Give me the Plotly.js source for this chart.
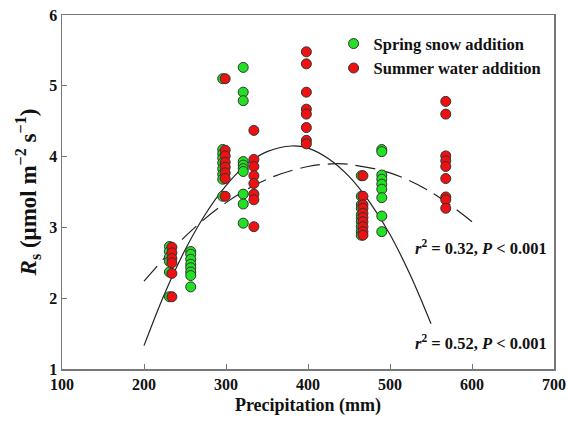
<!DOCTYPE html>
<html>
<head>
<meta charset="utf-8">
<script src="https://cdn.plot.ly/plotly-3.0.1.min.js"></script>
<style>html,body{margin:0;padding:0;background:#fff}#chart{width:570px;height:423px}</style>
</head>
<body>
<div id="chart"></div>
<script>
// Spring snow addition (green)
const springP  = [231,231,231,231,231,231,
                  257,257,257,257,257,257,257,257,
                  296,296,296,296,296,296,296,296,296,
                  321,321,321,321,321,321,321,321,321,321,
                  465,465,465,465,465,465,465,465,465,465,
                  490,490,490,490,490,490,490,490,490];
const springRs = [2.73,2.66,2.58,2.52,2.37,2.02,
                  2.66,2.62,2.55,2.48,2.43,2.37,2.32,2.16,
                  5.10,4.10,4.04,3.98,3.91,3.83,3.75,3.68,3.44,
                  5.26,4.91,4.79,3.93,3.88,3.83,3.79,3.47,3.33,3.06,
                  3.73,3.44,3.32,3.27,3.18,3.13,3.08,3.01,2.94,2.89,
                  4.10,4.07,3.74,3.68,3.61,3.54,3.42,3.16,2.94];
// Summer water addition (red)
const summerP  = [234,234,234,234,234,234,
                  299,299,299,299,299,299,299,299,
                  334,334,334,334,334,334,334,334,
                  398,398,398,398,398,398,398,398,
                  467,467,467,467,467,467,467,467,467,467,
                  568,568,568,568,568,568,568,568,568];
const summerRs = [2.72,2.64,2.56,2.50,2.35,2.02,
                  5.10,4.09,4.01,3.92,3.85,3.77,3.69,3.44,
                  4.37,3.96,3.86,3.73,3.62,3.47,3.39,3.01,
                  5.48,5.31,4.91,4.67,4.60,4.41,4.23,4.18,
                  3.73,3.44,3.32,3.27,3.20,3.14,3.08,3.01,2.94,2.89,
                  4.78,4.60,4.01,3.94,3.86,3.69,3.43,3.39,3.27];
// Fitted curves
const fitSolidP  = [200,225,250,275,300,325,350,380,400,425,450,475,500,525,550];
const fitSolidRs = [1.33,2.06,2.68,3.19,3.59,3.89,4.07,4.15,4.12,3.97,3.72,3.36,2.90,2.32,1.64];
const fitDashP   = [200,250,300,350,400,435,450,500,550,600];
const fitDashRs  = [2.24,2.87,3.35,3.68,3.86,3.90,3.89,3.77,3.50,3.08];
const legendNames = ["Spring snow addition","Summer water addition"];
const xTitle = "Precipitation (mm)";
const yTitle = "<i>R</i><sub>s</sub> (μmol m<sup>−2</sup> s<sup>−1</sup>)";
const statLabels = ["<i>r</i><sup>2</sup> = 0.32, <i>P</i> < 0.001",
                    "<i>r</i><sup>2</sup> = 0.52, <i>P</i> < 0.001"];
const statPos = [[694,2.72],[694,1.37]];

const F = "'Liberation Serif', 'Times New Roman', Times, serif";
const traces = [
  {x: fitDashP, y: fitDashRs, mode:'lines', line:{color:'#222', width:1.2, dash:'20px,8px', shape:'spline'}, showlegend:false, hoverinfo:'skip'},
  {x: fitSolidP, y: fitSolidRs, mode:'lines', line:{color:'#222', width:1.2, shape:'spline'}, showlegend:false, hoverinfo:'skip'},
  {x: springP, y: springRs, mode:'markers', name: legendNames[0],
   marker:{size:10, color:'#22e022', line:{color:'#333', width:1}}},
  {x: summerP, y: summerRs, mode:'markers', name: legendNames[1],
   marker:{size:10, color:'#ee1111', line:{color:'#333', width:1}}}
];
const annots = statLabels.map((t,i)=>({x:statPos[i][0], y:statPos[i][1], xref:'x', yref:'y', text:t,
     showarrow:false, xanchor:'right', font:{family:F, size:16.5, weight:'bold', color:'#111'}}));
const layout = {
  width:570, height:423,
  margin:{l:62, r:16, t:15, b:54},
  paper_bgcolor:'#fff', plot_bgcolor:'#fff',
  font:{family:F, color:'#111', size:15, weight:'bold'},
  showlegend:true,
  legend:{x:0.552, y:0.968, xanchor:'left', yanchor:'top', bgcolor:'rgba(0,0,0,0)',
          font:{family:F, size:16.5, weight:'bold', color:'#111'}, tracegroupgap:0, itemwidth:30},
  xaxis:{range:[100,700], dtick:100, tick0:100, ticks:'inside', ticklen:5, tickcolor:'#777',
         showline:true, mirror:true, linecolor:'#777', linewidth:1.5, showgrid:false, zeroline:false,
         tickfont:{family:F, size:16, weight:'bold'},
         title:{text:xTitle, font:{family:F, size:18, weight:'bold'}, standoff:6}},
  yaxis:{range:[1,6], dtick:1, ticks:'inside', ticklen:5, tickcolor:'#777',
         showline:true, mirror:true, linecolor:'#777', linewidth:1.5, showgrid:false, zeroline:false,
         tickfont:{family:F, size:16, weight:'bold'},
         title:{text:yTitle, font:{family:F, size:23, weight:'bold'}, standoff:6}},
  annotations: annots
};
Plotly.newPlot('chart', traces, layout, {displayModeBar:false, staticPlot:true});
</script>
</body>
</html>
